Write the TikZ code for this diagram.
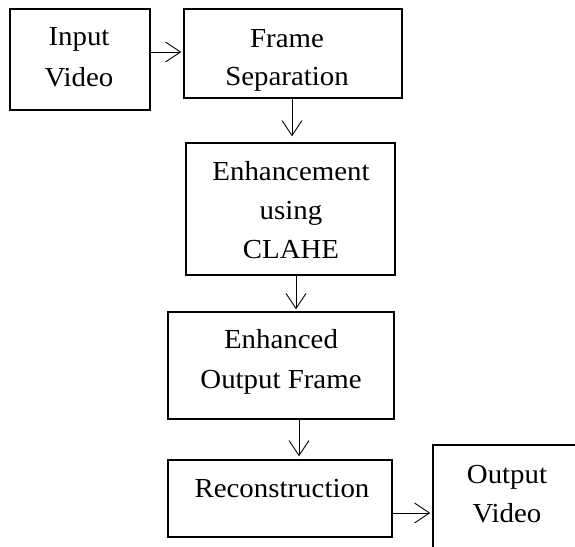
\documentclass[tikz,border=0pt]{standalone}
\usepackage{fontspec}
\setmainfont[FakeStretch=1.05]{Liberation Serif}
\usetikzlibrary{arrows.meta,calc}
\begin{document}
\begin{tikzpicture}[x=1pt,y=-1pt,
  stage/.style={draw, line width=1.3pt, inner sep=0pt},
  lbl/.style={anchor=base, inner sep=0pt, font=\fontsize{27.5}{40}\selectfont},
  flow/.style={line width=0.9pt, shorten >=2pt,
    -{Straight Barb[length=15pt,width=20pt,line width=0.9pt]}}]
\useasboundingbox (0,0) rectangle (575,546);
\clip (0,0) rectangle (575,546);

% process boxes
\node[stage, minimum width=140pt, minimum height=101pt] (input) at (80,59.5) {};
\node[stage, minimum width=218pt, minimum height=89pt]  (frame) at (293,53.5) {};
\node[stage, minimum width=209pt, minimum height=132pt] (enh)   at (290.5,209) {};
\node[stage, minimum width=226pt, minimum height=107pt] (outf)  at (281,365.5) {};
\node[stage, minimum width=224pt, minimum height=77pt]  (rec)   at (280,498.5) {};
\node[stage, minimum width=167pt, minimum height=145pt] (vid)   at (516.5,517.5) {};

% box texts
\node[lbl] at (79,45) {Input};
\node[lbl] at (79,86) {Video};
\node[lbl] at (287,47) {Frame};
\node[lbl] at (287,85) {Separation};
\node[lbl] at (291,180) {Enhancement};
\node[lbl] at (291,219) {using};
\node[lbl] at (291,258) {CLAHE};
\node[lbl] at (281,348) {Enhanced};
\node[lbl] at (281,388) {Output Frame};
\node[lbl] at (282,497) {Reconstruction};
\node[lbl] at (507,483) {Output};
\node[lbl] at (507,522) {Video};

% connectors
\coordinate (c1) at ($(input.east)+(0,-7.5)$);
\draw[flow] (c1) -- (c1 -| frame.west);
\coordinate (c2) at ($(frame.south)+(-1,0)$);
\draw[flow, shorten >=6pt] (c2) -- (c2 |- enh.north);
\coordinate (c3) at ($(enh.south)+(5.5,0)$);
\draw[flow] (c3) -- (c3 |- outf.north);
\coordinate (c4) at ($(outf.south)+(18,0)$);
\draw[flow, shorten >=3pt] (c4) -- (c4 |- rec.north);
\coordinate (c5) at ($(rec.east)+(0,14.5)$);
\draw[flow] (c5) -- (c5 -| vid.west);
\end{tikzpicture}
\end{document}
